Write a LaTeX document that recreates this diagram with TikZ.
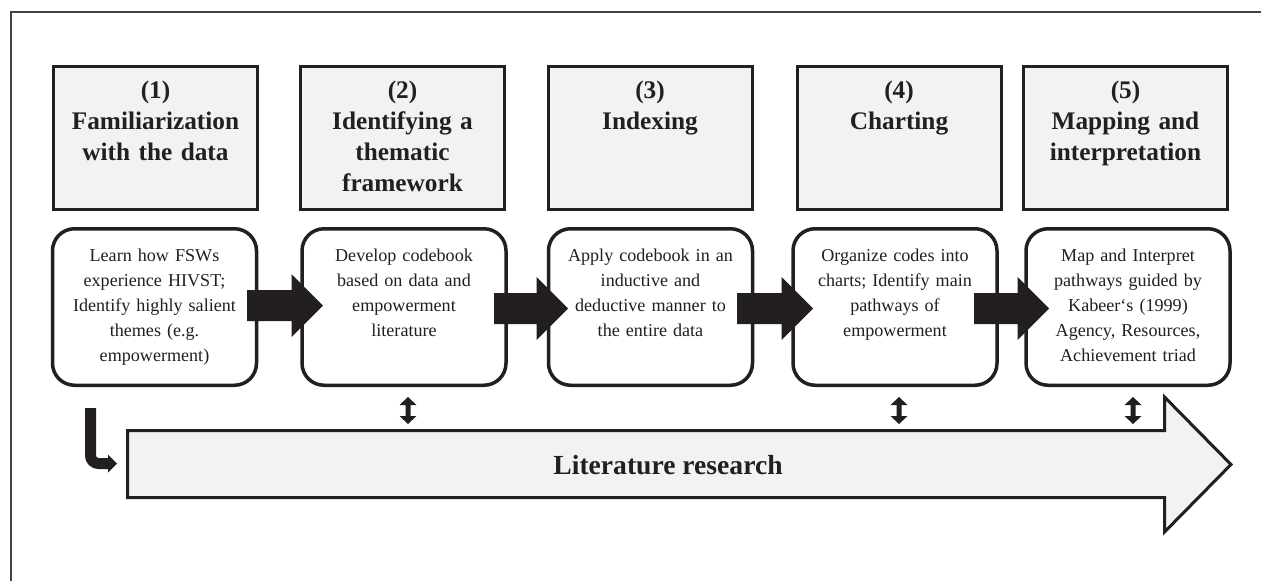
\documentclass[tikz,border=0pt]{standalone}
\usepackage{fontspec}
\setmainfont{Liberation Serif}
\usetikzlibrary{calc}
\definecolor{ink}{HTML}{231F20}
\definecolor{pale}{HTML}{F1F2F4}

% thick block arrow between two points at the same height: #1 tail, #2 tip
\newcommand\fatarrow[2]{%
  \fill[ink] let \p1=(#1), \p2=(#2) in
    (\x1,\y1+15.5pt) -- (\x2-31.5pt,\y1+15.5pt) -- (\x2-31.5pt,\y1+31.5pt) -- (\x2,\y1)
    -- (\x2-31.5pt,\y1-31.5pt) -- (\x2-31.5pt,\y1-15.5pt) -- (\x1,\y1-15.5pt) -- cycle;}

% small double-headed vertical arrow: #1 upper end, #2 lower end
\newcommand\updown[2]{%
  \fill[ink] let \p1=(#1), \p2=(#2) in
    (\x1,\y1) -- (\x1+8.5pt,\y1-8pt) -- (\x1+2.5pt,\y1-8pt) -- (\x1+2.5pt,\y2+8pt)
    -- (\x1+8.5pt,\y2+8pt) -- (\x1,\y2) -- (\x1-8.5pt,\y2+8pt) -- (\x1-2.5pt,\y2+8pt)
    -- (\x1-2.5pt,\y1-8pt) -- (\x1-8.5pt,\y1-8pt) -- cycle;}

\begin{document}
\begin{tikzpicture}[x=1pt,y=-1pt,
  headbox/.style={draw=ink, fill=pale, line width=3pt, minimum width=204pt,
    minimum height=143pt, inner sep=0pt},
  stepcard/.style={draw=ink, fill=white, line width=3.5pt, rounded corners=22pt,
    minimum width=204pt, minimum height=156.5pt, inner sep=0pt},
  headtext/.style={text=ink, font=\fontsize{25.3}{31}\selectfont\bfseries,
    align=center, text width=204pt, inner sep=0pt, anchor=base},
  cardtext/.style={text=ink, font=\fontsize{18.1}{25}\selectfont,
    align=center, text width=204pt, inner sep=0pt, anchor=base},
  littext/.style={text=ink, font=\fontsize{27.6}{32}\selectfont\bfseries, inner sep=0pt},
]
\useasboundingbox (0,0) rectangle (1261,581);

% frame lines along the top and left
\draw[ink!85, line width=1.2pt] (11,581) -- (11,12) -- (1261,12);

% step headers
\node[headbox] (h1) at (155.5,138) {};
\node[headbox] (h2) at (402.5,138) {};
\node[headbox] (h3) at (650,138) {};
\node[headbox] (h4) at (899,138) {};
\node[headbox] (h5) at (1125.5,138) {};

\node[headtext] (h1t) at (155.5,98) {(1)\\Familiarization\\with the data};
\node[headtext] (h2t) at (402.5,98) {(2)\\Identifying a\\thematic\\framework};
\node[headtext] (h3t) at (650,98) {(3)\\Indexing};
\node[headtext] (h4t) at (899,98) {(4)\\Charting};
\node[headtext] (h5t) at (1125.5,98) {(5)\\Mapping and\\interpretation};

% step descriptions
\node[stepcard] (r1) at (154.5,307) {};
\node[stepcard] (r2) at (404,307) {};
\node[stepcard] (r3) at (650.5,307) {};
\node[stepcard] (r4) at (895,307) {};
\node[stepcard] (r5) at (1128,307) {};

\node[cardtext] (r1t) at (154.5,261) {Learn how FSWs\\experience HIVST;\\Identify highly salient\\themes (e.g.\\empowerment)};
\node[cardtext] (r2t) at (404,261) {Develop codebook\\based on data and\\empowerment\\literature};
\node[cardtext] (r3t) at (650.5,261) {Apply codebook in an\\inductive and\\deductive manner to\\the entire data};
\node[cardtext] (r4t) at (895,261) {Organize codes into\\charts; Identify main\\pathways of\\empowerment};
\node[cardtext] (r5t) at (1128,261) {Map and Interpret\\pathways guided by\\Kabeer‘s (1999)\\Agency, Resources,\\Achievement triad};

% block arrows between the steps
\coordinate (a1s) at (247,305.5);  \coordinate (a1e) at (323,305.5);
\coordinate (a2s) at (494,308.5);  \coordinate (a2e) at (568,308.5);
\coordinate (a3s) at (737,308.5);  \coordinate (a3e) at (813,308.5);
\coordinate (a4s) at (974,308.5);  \coordinate (a4e) at (1049,308.5);
\fatarrow{a1s}{a1e}
\fatarrow{a2s}{a2e}
\fatarrow{a3s}{a3e}
\fatarrow{a4s}{a4e}

% literature research band
\draw[ink, fill=pale, line width=3pt, line join=miter]
  (127.5,430.5) -- (1164.5,430.5) -- (1164.5,397) -- (1231,464.5)
  -- (1164.5,532) -- (1164.5,497.5) -- (127.5,497.5) -- cycle;
\node[littext] (lit) at (668,465) {Literature research};

% links between steps and literature
\coordinate (d1a) at (408,397);  \coordinate (d1b) at (408,424);
\coordinate (d2a) at (899,397);  \coordinate (d2b) at (899,424);
\coordinate (d3a) at (1133,397); \coordinate (d3b) at (1133,424);
\updown{d1a}{d1b}
\updown{d2a}{d2b}
\updown{d3a}{d3b}

% bent arrow into the literature band
\coordinate (bendtop) at (90.5,408);
\coordinate (bendend) at (109,463.5);
\draw[ink, line width=11pt, rounded corners=8pt] (bendtop) |- (bendend);
\fill[ink] let \p1=(bendend) in
  (\x1-1pt,\y1+9pt) -- (\x1+8pt,\y1) -- (\x1-1pt,\y1-9pt) -- cycle;
\end{tikzpicture}
\end{document}
